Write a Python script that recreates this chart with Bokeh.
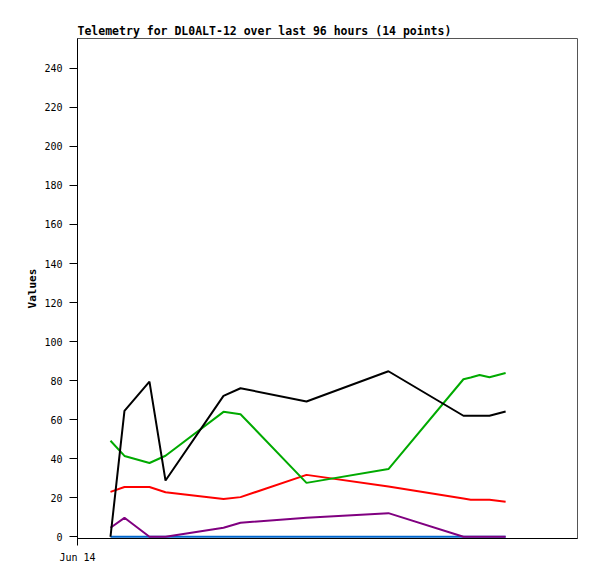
import pandas as pd
from bokeh.plotting import figure
from bokeh.models import FixedTicker, Range1d
from bokeh.embed import file_html
from bokeh.resources import INLINE

times = ["2024-06-14 06:20", "2024-06-14 09:01", "2024-06-14 13:49", "2024-06-14 16:54",
         "2024-06-15 04:02", "2024-06-15 07:18", "2024-06-15 19:58", "2024-06-16 11:42",
         "2024-06-17 02:06", "2024-06-17 03:30", "2024-06-17 05:12", "2024-06-17 07:06",
         "2024-06-17 10:12"]
black = [0, 64.5, 79.5, 28.8, 72.2, 76.1, 69.3, 84.8, 62, 62, 62, 62, 64.2]
green = [49.2, 41.4, 37.8, 41.5, 64, 62.8, 27.6, 34.7, 80.7, 81.6, 82.9, 81.7, 83.9]
red = [23, 25.5, 25.5, 22.8, 19.3, 20.3, 31.7, 25.7, 19.6, 19, 19, 18.9, 17.9]
purple = [4.6, 9.7, 0, 0, 4.6, 7.2, 9.7, 12.1, 0, 0, 0, 0, 0]
blue = [0] * 13
y_ticks = list(range(0, 241, 20))
x_tick_label = "Jun 14"

t = pd.to_datetime(times)
t0 = pd.Timestamp("2024-06-14 00:00")
t1 = pd.Timestamp("2024-06-18 00:00")
t0_ms = t0.value / 1e6

p = figure(width=589, height=568, x_axis_type="datetime",
           output_backend="svg", toolbar_location=None,
           x_range=Range1d(t0, t1), y_range=Range1d(-0.9, 255.3),
           min_border_left=77, min_border_right=12, min_border_top=38, min_border_bottom=30,
           title="Telemetry for DL0ALT-12 over last 96 hours (14 points)")

font = "DejaVu Sans Mono"
p.title.text_font = font
p.title.text_font_size = "11.5px"
p.title.text_font_style = "bold"
p.title.text_color = "black"
p.title.offset = 0
p.title.standoff = 2

p.xgrid.visible = False
p.ygrid.visible = False
p.outline_line_color = "#555555"
p.outline_line_width = 1

for ax in (p.xaxis[0], p.yaxis[0]):
    ax.axis_line_color = "black"
    ax.major_tick_line_color = "black"
    ax.minor_tick_line_color = None
    ax.major_tick_in = 0
    ax.major_tick_out = 8
    ax.major_label_text_font = font
    ax.major_label_text_font_size = "10px"
    ax.major_label_text_color = "black"

p.yaxis[0].ticker = FixedTicker(ticks=y_ticks)
p.yaxis[0].axis_label = "Values"
p.yaxis[0].axis_label_text_font = font
p.yaxis[0].axis_label_text_font_size = "11px"
p.yaxis[0].axis_label_text_font_style = "bold"
p.yaxis[0].axis_label_text_color = "black"
p.yaxis[0].axis_label_standoff = 2
p.yaxis[0].major_label_standoff = 7

p.xaxis[0].ticker = FixedTicker(ticks=[t0_ms])
p.xaxis[0].major_label_overrides = {t0_ms: x_tick_label}
p.xaxis[0].major_tick_out = 7
p.xaxis[0].major_label_standoff = 6

p.line(t, blue, line_color="#0066cc", line_width=2)
p.line(t, purple, line_color="#800080", line_width=2)
p.line(t, red, line_color="#ff0000", line_width=2)
p.line(t, green, line_color="#00aa00", line_width=2)
p.line(t, black, line_color="black", line_width=2)

open("out.html", "w").write(file_html(p, INLINE))
